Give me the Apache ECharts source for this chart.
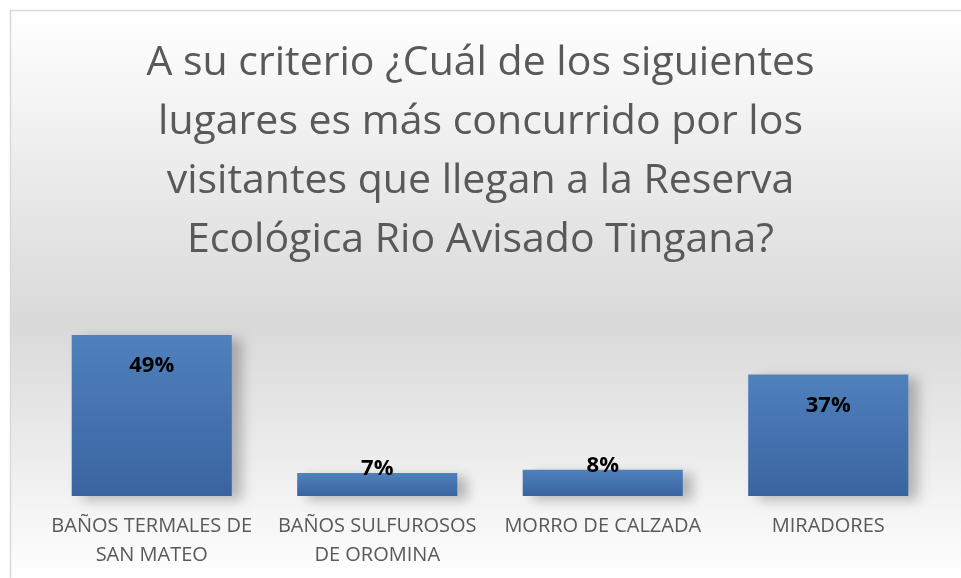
<!DOCTYPE html>
<html>
<head>
<meta charset="utf-8">
<script src="https://cdn.jsdelivr.net/npm/echarts@6/dist/echarts.min.js"></script>
<style>
  html, body { margin: 0; padding: 0; background: #fff; }
  #chart { width: 961px; height: 578px; }
</style>
</head>
<body>
<div id="chart"></div>
<script>
const titleText = 'A su criterio ¿Cuál de los siguientes\nlugares es más concurrido por los\nvisitantes que llegan a la Reserva\nEcológica Rio Avisado Tingana?'
const categories = ['BAÑOS TERMALES DE\nSAN MATEO', 'BAÑOS SULFUROSOS\nDE OROMINA', 'MORRO DE CALZADA', 'MIRADORES']
const percentages = [49, 7, 8, 37]

const chart = echarts.init(document.getElementById('chart'))

// small bars get their label pushed above the bar, like the original
const barData = percentages.map(function (v) {
	if (v < 15) {
		return { value: v, label: { position: 'top', distance: -7 } }
	}
	return v
})

const option = {
	backgroundColor: '#ffffff',
	graphic: [
		{
			type: 'rect',
			z: -10,
			shape: { x: 10.5, y: 10.5, width: 1000, height: 600 },
			style: {
				stroke: '#d9d9d9',
				lineWidth: 1.5,
				fill: {
					type: 'linear', x: 0, y: 0, x2: 0, y2: 1,
					colorStops: [
						{ offset: 0, color: '#ffffff' },
						{ offset: 0.52, color: '#d9d9d9' },
						{ offset: 0.95, color: '#ffffff' },
						{ offset: 1, color: '#ffffff' }
					]
				}
			}
		}
	],
	title: {
		text: titleText,
		left: 'center',
		top: 29,
		textStyle: {
			fontFamily: 'Open Sans',
			fontWeight: 'normal',
			fontSize: 41,
			lineHeight: 59,
			color: '#595959'
		}
	},
	grid: { left: 39, right: 20, top: 335, bottom: 82 },
	xAxis: {
		type: 'category',
		data: categories,
		axisLine: { show: false },
		axisTick: { show: false },
		axisLabel: {
			interval: 0,
			margin: 16,
			fontFamily: 'Open Sans',
			fontSize: 20,
			lineHeight: 29,
			color: '#595959'
		}
	},
	yAxis: {
		type: 'value',
		min: 0,
		max: 49,
		show: false,
		splitLine: { show: false }
	},
	series: [
		{
			type: 'bar',
			data: barData,
			barWidth: '71%',
			itemStyle: {
				color: {
					type: 'linear', x: 0, y: 0, x2: 0, y2: 1,
					colorStops: [
						{ offset: 0, color: '#4f81bd' },
						{ offset: 1, color: '#3a64a0' }
					]
				},
				shadowColor: 'rgba(0,0,0,0.25)',
				shadowBlur: 12,
				shadowOffsetX: 10,
				shadowOffsetY: 4
			},
			label: {
				show: true,
				position: 'insideTop',
				distance: 20,
				formatter: '{c}%',
				fontFamily: 'Open Sans',
				fontWeight: 'bold',
				fontSize: 22,
				color: '#000000'
			}
		}
	]
}
chart.setOption(option)
</script>
</body>
</html>
